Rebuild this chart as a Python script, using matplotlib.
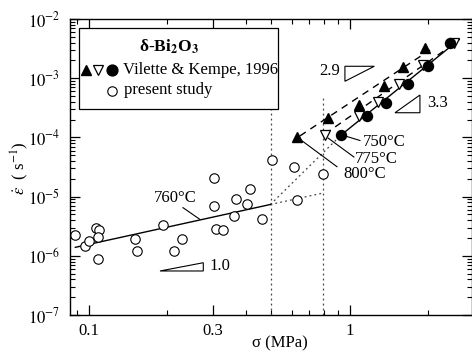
import matplotlib
matplotlib.use('agg')
import matplotlib.pyplot as plt
from matplotlib.patches import Rectangle, Polygon
from matplotlib.ticker import FixedLocator, NullFormatter, LogLocator

plt.rcParams['font.family'] = ['Liberation Serif', 'DejaVu Serif']
plt.rcParams['mathtext.fontset'] = 'stix'
plt.rcParams['font.size'] = 12

# present study, 760 C
present_sigma = [0.089, 0.097, 0.100, 0.107, 0.110, 0.109, 0.109, 0.150, 0.153,
                 0.193, 0.212, 0.228, 0.303, 0.302, 0.308, 0.328, 0.361, 0.368,
                 0.404, 0.414, 0.463, 0.504, 0.610, 0.626, 0.790]
present_rate = [2.22e-6, 1.48e-6, 1.80e-6, 2.95e-6, 2.70e-6, 2.05e-6, 8.9e-7,
                1.90e-6, 1.19e-6, 3.27e-6, 1.19e-6, 1.95e-6, 2.04e-5, 6.94e-6,
                2.84e-6, 2.68e-6, 4.70e-6, 9.1e-6, 7.41e-6, 1.34e-5, 4.14e-6,
                4.15e-5, 3.20e-5, 8.77e-6, 2.41e-5]

# Vilette & Kempe, 1996
v800_sigma = [0.626, 0.823, 1.085, 1.348, 1.597, 1.952]
v800_rate = [1.03e-4, 2.15e-4, 3.57e-4, 7.33e-4, 1.52e-3, 3.30e-3]
v775_sigma = [0.804, 1.085, 1.284, 1.549, 1.914, 2.51]
v775_rate = [1.10e-4, 2.30e-4, 3.99e-4, 7.83e-4, 1.69e-3, 3.98e-3]
v750_sigma = [0.926, 1.162, 1.374, 1.673, 2.004, 2.427]
v750_rate = [1.09e-4, 2.34e-4, 3.81e-4, 8.04e-4, 1.63e-3, 3.86e-3]

# fitted / guide lines (end points)
fit760_sigma, fit760_rate = [0.0889, 0.497], [1.39e-6, 7.36e-6]
fit750_sigma, fit750_rate = [0.926, 2.63], [1.09e-4, 4.5e-3]
fit775_sigma, fit775_rate = [0.804, 2.60], [1.14e-4, 4.25e-3]
fit800_sigma, fit800_rate = [0.645, 2.03], [1.06e-4, 2.99e-3]
dot_low_sigma, dot_low_rate = [0.497, 0.792], [7.36e-6, 1.15e-5]
dot_up_sigma, dot_up_rate = [0.497, 0.926], [7.36e-6, 1.09e-4]
vline_sigma = [0.5, 0.79]
vline_top = [2.96e-4, 4.87e-4]

fig = plt.figure(figsize=(4.72, 3.53), dpi=100)
ax = fig.add_axes([70 / 472, 1 - 315 / 353, 401.5 / 472, 296 / 353])
ax.set_xscale('log')
ax.set_yscale('log')
ax.set_xlim(0.0848, 2.93)
ax.set_ylim(1e-7, 1e-2)

dotted = (0, (1.5, 2.5))
for s, top in zip(vline_sigma, vline_top):
    ax.plot([s, s], [1e-7, top], color='#444444', lw=0.9, ls=dotted)
ax.plot(dot_low_sigma, dot_low_rate, color='#444444', lw=0.9, ls=dotted)
ax.plot(dot_up_sigma, dot_up_rate, color='#444444', lw=0.9, ls=dotted)

ax.plot(fit760_sigma, fit760_rate, color='black', lw=1)
ax.plot(fit750_sigma, fit750_rate, color='black', lw=1)
ax.plot(fit775_sigma, fit775_rate, color='black', lw=1, ls=(0, (5, 4)))
ax.plot(fit800_sigma, fit800_rate, color='black', lw=1, ls=(0, (5, 4)))

ax.plot(present_sigma, present_rate, 'o', ms=6.8, mfc='white', mec='black', mew=0.8)
ax.plot(v800_sigma, v800_rate, '^', ms=7.5, color='black')
ax.plot(v775_sigma, v775_rate, 'v', ms=7.5, mfc='white', mec='black', mew=0.9)
ax.plot(v750_sigma, v750_rate, 'o', ms=7.2, color='black')

# slope triangles
tri_style = dict(closed=True, fill=False, ec='black', lw=0.8)
ax.add_patch(Polygon([[0.1876, 5.54e-7], [0.2749, 5.54e-7], [0.2749, 7.64e-7]], **tri_style))
ax.add_patch(Polygon([[0.959, 1.59e-3], [1.243, 1.59e-3], [0.959, 8.87e-4]], **tri_style))
ax.add_patch(Polygon([[1.492, 2.61e-4], [1.859, 2.61e-4], [1.859, 5.2e-4]], **tri_style))
ax.text(0.2916, 6.73e-7, '1.0', ha='left', va='center')
ax.text(0.918, 1.32e-3, '2.9', ha='right', va='center')
ax.text(1.988, 3.85e-4, '3.3', ha='left', va='center')

# temperature labels
ax.text(0.214, 9.57e-6, '760°C', ha='center', va='center')
ax.plot([0.2298, 0.2664], [6.5e-6, 4.14e-6], color='black', lw=0.8)
ax.text(1.124, 8.46e-5, '750°C', ha='left', va='center')
ax.plot([0.959, 1.095], [1.06e-4, 8.87e-5], color='black', lw=0.8)
ax.text(1.048, 4.27e-5, '775°C', ha='left', va='center')
ax.plot([0.826, 1.038], [9.77e-5, 4.67e-5], color='black', lw=0.8)
ax.text(0.943, 2.41e-5, '800°C', ha='left', va='center')
ax.plot([0.645, 0.894], [9.29e-5, 3.2e-5], color='black', lw=0.8)

# ticks
ax.xaxis.set_major_locator(FixedLocator([0.1, 0.3, 1, 3]))
ax.xaxis.set_minor_locator(FixedLocator([0.09, 0.2, 0.4, 0.5, 0.6, 0.7, 0.8, 0.9, 2]))
ax.xaxis.set_minor_formatter(NullFormatter())
ax.set_xticklabels(['0.1', '0.3', '1', '3'])
ax.yaxis.set_major_locator(LogLocator(base=10, numticks=10))
ax.yaxis.set_minor_locator(LogLocator(base=10, subs=range(2, 10), numticks=10))
ax.yaxis.set_minor_formatter(NullFormatter())
ax.set_yticks([1e-7, 1e-6, 1e-5, 1e-4, 1e-3, 1e-2])
ax.set_yticklabels([r'$10^{-7}$', r'$10^{-6}$', r'$10^{-5}$', r'$10^{-4}$',
                    r'$10^{-3}$', r'$10^{-2}$'])
ax.tick_params(which='both', direction='in', top=True, right=True, labelsize=12)
ax.tick_params(which='major', length=7, width=0.9)
ax.tick_params(which='minor', length=3.5, width=0.8)
ax.tick_params(axis='x', pad=6)
ax.tick_params(axis='y', pad=7)
for sp in ax.spines.values():
    sp.set_linewidth(1)

# legend box drawn by hand
def axp(px, py):
    return (px - 70) / 401.5, (315 - py) / 296

x0, y0 = axp(79, 109.3)
x1, y1 = axp(278.3, 28.3)
ax.add_patch(Rectangle((x0, y0), x1 - x0, y1 - y0, transform=ax.transAxes,
                       fc='white', ec='black', lw=0.9, zorder=5))
tx, ty = axp(168.5, 47)
ax.text(tx, ty, 'δ-Bi$_\\mathbf{2}$O$_\\mathbf{3}$', transform=ax.transAxes,
        ha='center', va='center', fontweight='bold', fontsize=12.5, zorder=6)
for px, mk, kw in [(86, '^', dict(color='black')),
                   (97.7, 'v', dict(mfc='white', mec='black', mew=0.9)),
                   (111.7, 'o', dict(color='black'))]:
    mx, my = axp(px, 70)
    ax.plot([mx], [my], mk, ms=7.8, transform=ax.transAxes, zorder=6, **kw)
lx, ly = axp(123, 70)
ax.text(lx, ly, 'Vilette & Kempe, 1996', transform=ax.transAxes,
        ha='left', va='center', zorder=6)
mx, my = axp(111.7, 90.5)
ax.plot([mx], [my], 'o', ms=6.8, mfc='white', mec='black', mew=0.8,
        transform=ax.transAxes, zorder=6)
lx, ly = axp(124, 90)
ax.text(lx, ly, 'present study', transform=ax.transAxes,
        ha='left', va='center', zorder=6)

fig.text(20 / 472, 1 - 168 / 353, r'$\dot{\varepsilon}$  ( s$^{-1}$)', rotation=90,
         ha='center', va='center', fontsize=12)
fig.text(280 / 472, 1 - 343 / 353, 'σ (MPa)', ha='center', va='center', fontsize=12)

fig.savefig('out.png', dpi=100)
